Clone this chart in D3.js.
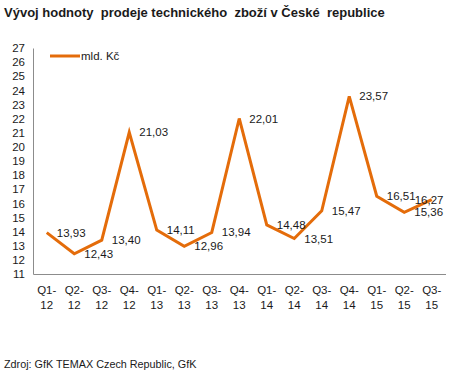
<!DOCTYPE html>
<html>
<head>
<meta charset="utf-8">
<script src="https://cdn.jsdelivr.net/npm/d3@7"></script>
<style>
  body { margin: 0; background: #fff; }
  text { font-family: "Liberation Sans", Arial, sans-serif; fill: #1a1a1a; }
</style>
</head>
<body>
<svg id="chart"></svg>
<script>
let quarters = ["Q1-12","Q2-12","Q3-12","Q4-12","Q1-13","Q2-13","Q3-13","Q4-13","Q1-14","Q2-14","Q3-14","Q4-14","Q1-15","Q2-15","Q3-15"]
let values = [13.93, 12.43, 13.40, 21.03, 14.11, 12.96, 13.94, 22.01, 14.48, 13.51, 15.47, 23.57, 16.51, 15.36, 16.27]
let yTicks = d3.range(11, 28)
let seriesName = "mld. Kč"
let title = "Vývoj hodnoty  prodeje technického  zboží v České  republice"
let source = "Zdroj: GfK TEMAX Czech Republic, GfK"

let width = 450
let height = 377
let margin = { top: 48, left: 33, right: 4.5, bottom: 103 }
let bodyWidth = width - margin.left - margin.right
let bodyHeight = height - margin.top - margin.bottom
let orange = "#E46C0A"

let svg = d3.select("#chart").attr("width", width).attr("height", height)

svg.append("text")
    .attr("x", 4).attr("y", 17)
    .style("font-size", "13px").style("font-weight", "bold")
    .style("white-space", "pre")
    .text(title)

let xScale = d3.scaleBand().domain(quarters).range([0, bodyWidth])
let yScale = d3.scaleLinear().domain([11, 27]).range([bodyHeight, 0])

let body = svg.append("g").attr("transform", `translate(${margin.left},${margin.top})`)

// y axis
let axisY = d3.axisLeft(yScale).tickValues(yTicks).tickSize(0).tickPadding(8).tickFormat(d3.format("d"))
let gy = body.append("g").call(axisY)
gy.select(".domain").attr("stroke", "#8c8c8c")
gy.selectAll("text").style("font-size", "11.5px").style("font-family", "Liberation Sans, Arial, sans-serif").attr("fill", "#1a1a1a")

// x axis
let axisX = d3.axisBottom(xScale).tickSize(0).tickFormat("")
let gx = body.append("g").attr("transform", `translate(0,${bodyHeight})`).call(axisX)
gx.select(".domain").attr("stroke", "#8c8c8c")
gx.selectAll(".tick").each(function(d) {
    let parts = d.split("-")
    let t = d3.select(this).append("text")
        .attr("text-anchor", "middle")
        .style("font-size", "11.5px")
    t.append("tspan").attr("x", 0).attr("y", 20).text(parts[0] + "-")
    t.append("tspan").attr("x", 0).attr("y", 35).text(parts[1])
})

let cx = (d, i) => xScale(quarters[i]) + xScale.bandwidth() / 2

let line = d3.line()
    .x((d, i) => cx(d, i))
    .y(d => yScale(d))

body.append("path")
    .datum(values)
    .attr("fill", "none")
    .attr("stroke", orange)
    .attr("stroke-width", 3)
    .attr("stroke-linejoin", "miter")
    .attr("d", line)

// data labels
let fmt = d => d.toFixed(2).replace(".", ",")
body.selectAll(".lbl").data(values).enter().append("text")
    .attr("class", "lbl")
    .style("font-size", "11.5px")
    .attr("dy", "0.35em")
    .attr("y", d => yScale(d))
    .text(d => fmt(d))
    .each(function(d, i) {
        let w = this.getComputedTextLength()
        let x = cx(d, i) + 10
        if (margin.left + x + w > width - 4) {
            d3.select(this).attr("x", bodyWidth - 2).attr("text-anchor", "end")
        } else {
            d3.select(this).attr("x", x)
        }
    })

// legend
svg.append("line")
    .attr("x1", 50).attr("x2", 80).attr("y1", 56).attr("y2", 56)
    .attr("stroke", orange).attr("stroke-width", 3)
svg.append("text")
    .attr("x", 81).attr("y", 56).attr("dy", "0.35em")
    .style("font-size", "11.5px")
    .text(seriesName)

svg.append("text")
    .attr("x", 4).attr("y", 364).attr("dy", "0.35em")
    .style("font-size", "10.8px")
    .text(source)
</script>
</body>
</html>
